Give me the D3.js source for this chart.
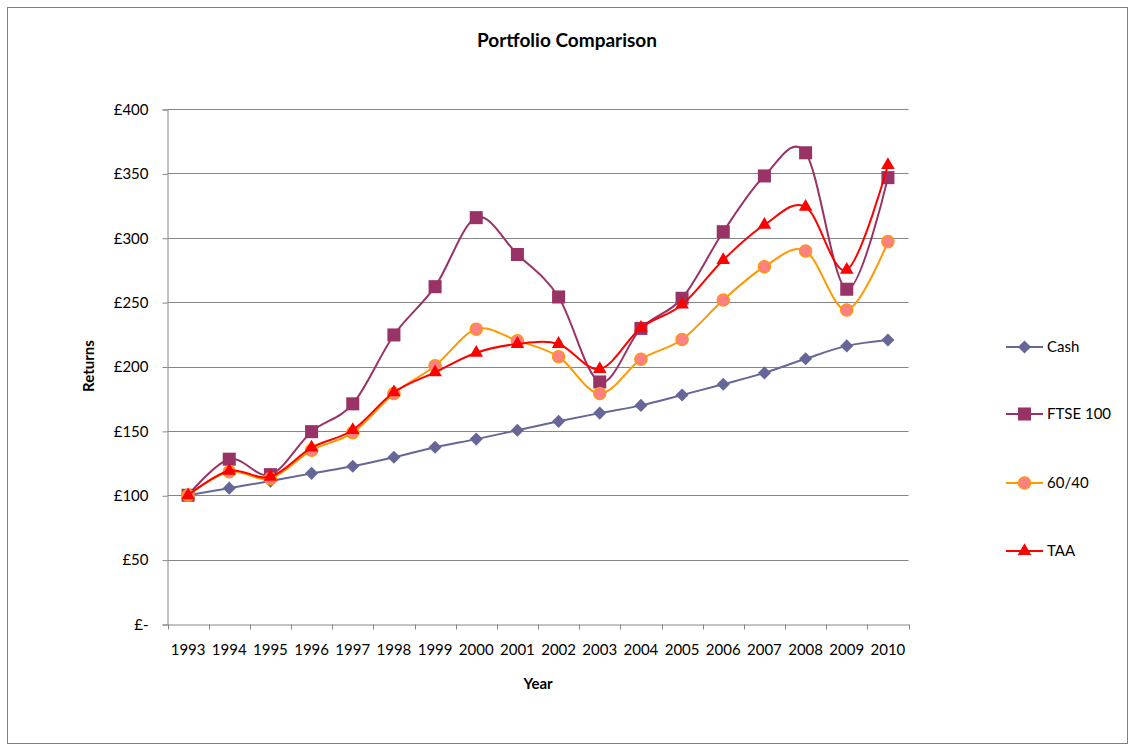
<!DOCTYPE html>
<html lang="en">
<head>
<meta charset="UTF-8">
<title>Portfolio Comparison</title>
<script src="https://cdn.jsdelivr.net/npm/d3@7"></script>
<style>
  body { margin: 0; background: #fff; }
  svg { display: block; font-family: Lato, "Open Sans", sans-serif; }
</style>
</head>
<body>
<svg id="chart"></svg>
<script>
// data
var years = ["1993","1994","1995","1996","1997","1998","1999","2000","2001","2002","2003","2004","2005","2006","2007","2008","2009","2010"];
var cash  = [100,105.5,111,117,122.5,129.5,137.3,143.6,150.5,157.4,163.8,169.8,177.9,186.2,195,206,216,220.6];
var ftse  = [100,128,116,149.4,171,224.5,262,315.6,287,254,188,229.6,253,304.7,348,366,260,346.7];
var mix   = [100,118.3,113,135,148.6,179,200.6,229,220,207.6,179,205.6,221,251.6,277.5,289.7,243.9,297];
var taa   = [100,119,114.4,137,150.7,180,195.5,210.7,217.5,217.5,198,230,248,282.7,310,324,275,356.5];
var yTicks = [0,50,100,150,200,250,300,350,400];

var series = [
  {name: "Cash",     values: cash, line: "#666699", fill: "#666699", stroke: "none",    shape: "diamond"},
  {name: "FTSE 100", values: ftse, line: "#993366", fill: "#993366", stroke: "none",    shape: "square"},
  {name: "60/40",    values: mix,  line: "#FF9900", fill: "#FF8080", stroke: "#FF9900", shape: "circle"},
  {name: "TAA",      values: taa,  line: "#FF0000", fill: "#FF0000", stroke: "none",    shape: "triangle"}
];

var width = 1135, height = 751;
var plot = {left: 167.5, right: 908.5, top: 109, bottom: 624};

var svg = d3.select("#chart").attr("width", width).attr("height", height);

// outer frame
svg.append("rect")
  .attr("x", 7.5).attr("y", 7.5)
  .attr("width", 1120).attr("height", 736)
  .attr("fill", "none").attr("stroke", "#808080");

var x = d3.scaleBand().domain(years).range([plot.left, plot.right]);
var y = d3.scaleLinear().domain([0, 400]).range([plot.bottom, plot.top]);

/* gridlines */
svg.append("g").selectAll("line")
  .data(yTicks.filter(function(d) { return d > 0; }))
  .enter().append("line")
  .attr("x1", plot.left).attr("x2", plot.right)
  .attr("y1", function(d) { return Math.round(y(d)) + 0.5; })
  .attr("y2", function(d) { return Math.round(y(d)) + 0.5; })
  .attr("stroke", "#868686");

/* y axis */
var yAxis = d3.axisLeft(y)
  .tickValues(yTicks)
  .tickSize(5)
  .tickPadding(14)
  .tickFormat(function(d) { return d === 0 ? "£-" : "£" + d; });
var yg = svg.append("g")
  .attr("transform", "translate(" + plot.left + ",0.5)")
  .call(yAxis);
yg.select(".domain").attr("stroke", "#868686");
yg.selectAll(".tick line").attr("stroke", "#868686");
yg.selectAll("text").attr("font-size", 15).attr("fill", "#000").attr("font-family", "Lato, sans-serif");

/* x axis - ticks between categories */
var xAxis = d3.axisBottom(x).tickSize(0).tickPadding(20);
var xg = svg.append("g")
  .attr("transform", "translate(0," + (plot.bottom + 0.5) + ")")
  .call(xAxis);
xg.select(".domain").attr("stroke", "#868686");
xg.selectAll("text").attr("font-size", 15).attr("fill", "#000").attr("font-family", "Lato, sans-serif");
var bounds = years.map(function(d) { return x(d); }).concat([plot.right]);
xg.selectAll(".sep")
  .data(bounds)
  .enter().append("line")
  .attr("class", "sep")
  .attr("x1", function(d) { return Math.round(d) + 0.5; })
  .attr("x2", function(d) { return Math.round(d) + 0.5; })
  .attr("y1", 0).attr("y2", 5)
  .attr("stroke", "#868686");

/* lines */
var cx = function(i) { return x(years[i]) + x.bandwidth() / 2; };
var line = d3.line()
  .x(function(d, i) { return cx(i); })
  .y(function(d) { return y(d); })
  .curve(d3.curveCardinal.tension(0));

var symbolFor = {
  diamond: d3.symbol().type(d3.symbolDiamond2).size(110),
  square: d3.symbol().type(d3.symbolSquare).size(170),
  circle: d3.symbol().type(d3.symbolCircle).size(120),
  triangle: d3.symbol().type(d3.symbolTriangle).size(80)
};

series.forEach(function(s) {
  var g = svg.append("g");
  g.append("path")
    .datum(s.values)
    .attr("d", line)
    .attr("fill", "none")
    .attr("stroke", s.line)
    .attr("stroke-width", 2);
  g.selectAll("path.mk")
    .data(s.values)
    .enter().append("path")
    .attr("class", "mk")
    .attr("d", symbolFor[s.shape])
    .attr("transform", function(d, i) { return "translate(" + cx(i) + "," + y(d) + ")"; })
    .attr("fill", s.fill)
    .attr("stroke", s.stroke)
    .attr("stroke-width", 1.2);
});

/* legend */
var legY = [347, 414, 483, 551];
var leg = svg.append("g");
series.forEach(function(s, i) {
  var row = leg.append("g").attr("transform", "translate(0," + legY[i] + ")");
  row.append("line")
    .attr("x1", 1006).attr("x2", 1043)
    .attr("stroke", s.line).attr("stroke-width", 2);
  row.append("path")
    .attr("d", symbolFor[s.shape])
    .attr("transform", "translate(1024.5,0)")
    .attr("fill", s.fill)
    .attr("stroke", s.stroke)
    .attr("stroke-width", 1.2);
  row.append("text")
    .attr("x", 1047).attr("y", 0)
    .attr("dy", "0.35em")
    .attr("font-size", 15)
    .text(s.name);
});

/* titles */
svg.append("text")
  .attr("x", 567).attr("y", 47)
  .attr("text-anchor", "middle")
  .attr("font-size", 19).attr("font-weight", "bold")
  .text("Portfolio Comparison");
svg.append("text")
  .attr("x", 538).attr("y", 689)
  .attr("text-anchor", "middle")
  .attr("font-size", 15).attr("font-weight", "bold")
  .text("Year");
svg.append("text")
  .attr("transform", "translate(94,366) rotate(-90)")
  .attr("text-anchor", "middle")
  .attr("font-size", 15).attr("font-weight", "bold")
  .text("Returns");
</script>
</body>
</html>
